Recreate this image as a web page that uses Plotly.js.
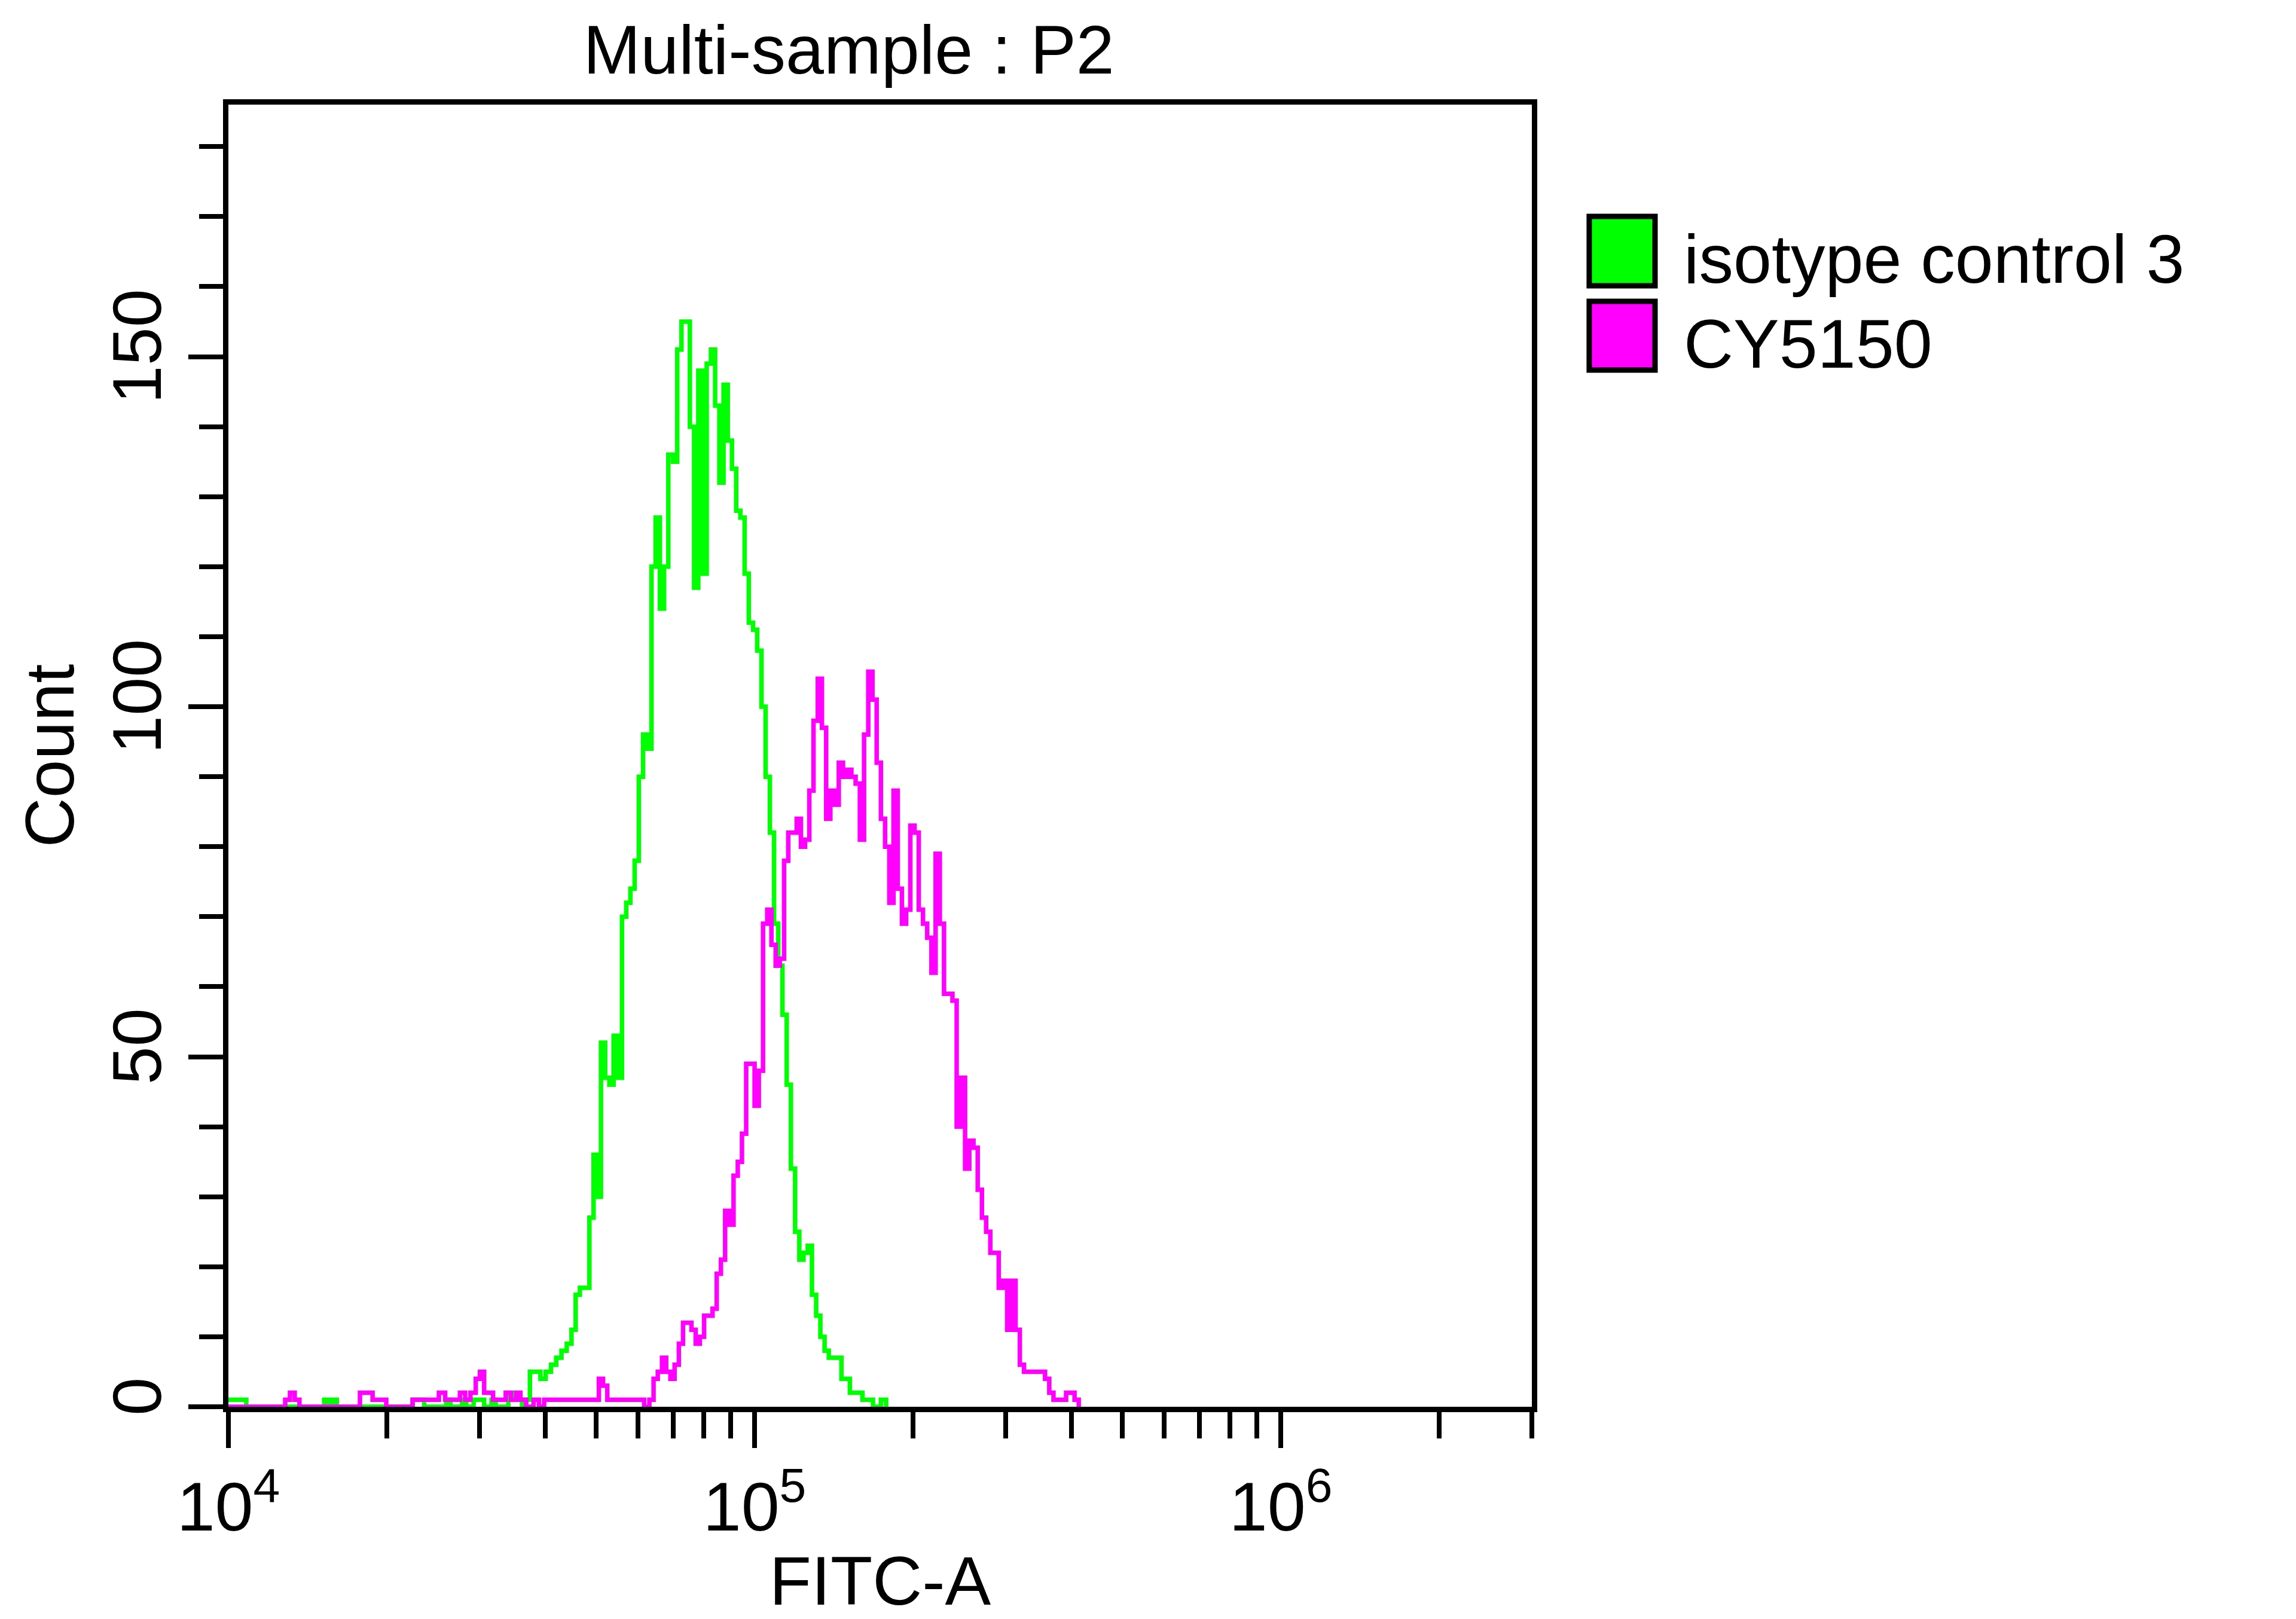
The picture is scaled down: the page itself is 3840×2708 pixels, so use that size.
<!DOCTYPE html>
<html>
<head>
<meta charset="utf-8">
<script src="https://cdn.plot.ly/plotly-3.0.1.min.js"></script>
<style>
html,body{margin:0;padding:0;background:#ffffff;}
#chart{width:3840px;height:2708px;}
</style>
</head>
<body>
<div id="chart"></div>
<script>
// ---- data (x as log10 of FITC-A, y as Count) ----
const isoLog10 = [4.000,4.012,4.024,4.034,4.176,4.182,4.190,4.198,4.206,4.344,4.350,4.362,4.372,4.414,4.422,4.444,4.452,4.466,4.476,4.486,4.500,4.508,4.532,4.542,4.550,4.558,4.565,
  4.573,4.583,4.593,4.603,4.613,4.623,4.633,4.643,4.652,4.660,4.668,4.677,4.686,4.694,4.700,
  4.708,4.716,4.724,4.732,4.740,4.748,4.756,4.764,4.772,4.780,4.788,4.796,4.804,4.812,4.820,4.828,4.836,
  4.845,4.853,4.861,4.869,4.877,4.885,4.893,4.901,4.909,4.917,4.925,4.933,4.941,4.949,4.957,4.965,4.973,4.981,4.989,4.997,
  5.005,5.013,5.021,5.029,5.037,5.045,5.053,5.061,5.069,5.077,5.085,5.093,5.101,5.109,5.117,5.125,5.133,5.141,5.149,5.157,5.165,5.173,5.181,5.189,5.197,
  5.205,5.215,5.225,5.240,5.250];
const isoCount = [1,1,1,0,0,1,0,1,0,0,1,1,0,1,0,1,0,1,1,0,1,0,2,1,1,0,1,
  5,5,4,5,6,7,8,9,11,16,17,17,27,36,30,
  52,47,46,53,47,70,72,74,78,90,96,94,120,127,114,120,136,
  135,151,155,155,140,117,148,119,149,151,143,132,146,138,134,128,127,119,112,111,
  108,100,90,82,69,63,56,46,34,25,21,22,23,16,13,10,8,7,7,7,4,4,2,2,2,
  1,1,0,1,0];

const cyLog10 = [4.000,4.100,4.108,4.117,4.126,4.135,4.244,4.250,4.262,4.274,4.290,4.300,4.350,4.390,4.400,4.412,4.432,4.440,4.450,4.460,4.470,4.478,4.486,4.494,4.503,4.515,4.527,4.537,4.547,4.555,4.566,4.580,4.590,4.600,4.690,4.704,4.712,4.720,4.790,
  4.800,4.808,4.816,4.824,4.832,4.840,4.848,4.856,4.864,4.872,4.880,4.888,4.896,4.904,4.912,4.920,4.928,4.936,4.944,4.952,4.960,4.968,4.976,4.984,4.992,
  5.000,5.008,5.016,5.024,5.032,5.040,5.048,5.056,5.064,5.072,5.080,5.088,5.096,5.104,5.112,5.120,5.128,5.136,5.144,5.152,5.160,5.168,5.176,5.184,5.192,
  5.200,5.208,5.216,5.224,5.232,5.240,5.248,5.256,5.264,5.272,5.280,5.288,5.296,5.304,5.312,5.320,5.328,5.336,5.344,5.352,5.360,5.368,5.376,5.384,5.392,
  5.400,5.408,5.416,5.424,5.432,5.440,5.448,5.456,5.464,5.472,5.480,5.488,5.496,5.504,5.512,5.520,5.528,5.536,5.544,5.552,5.560,5.568,5.576,5.584,5.592,
  5.600,5.608,5.616];
const cyCount = [0,0,1,2,1,0,0,2,2,1,1,0,1,1,2,1,1,2,1,2,4,5,2,2,1,1,2,1,2,1,0,1,0,1,1,4,3,1,0,
  1,4,5,7,5,4,6,9,12,12,11,9,10,13,13,14,19,21,28,26,33,35,39,49,49,
  43,48,69,71,66,63,64,78,82,82,84,80,81,88,98,104,97,84,88,86,92,90,91,90,89,
  81,96,105,101,92,84,80,72,88,74,69,71,83,82,71,69,67,62,79,69,59,59,58,40,47,
  34,38,37,31,27,25,22,22,17,18,11,18,11,6,5,5,5,5,5,4,2,1,1,1,2,
  2,1,0];

const seriesNames = ['isotype control 3', 'CY5150'];
const seriesColors = ['#00ff00', '#ff00ff'];

const xMajorTicks = [1e4, 1e5, 1e6];
const xMajorLabels = ['10<sup>4</sup>', '10<sup>5</sup>', '10<sup>6</sup>'];
const xMinorTicks = [2e4,3e4,4e4,5e4,6e4,7e4,8e4,9e4,2e5,3e5,4e5,5e5,6e5,7e5,8e5,9e5,2e6,3e6];
const yMajorTicks = [0, 50, 100, 150];
const yMajorLabels = ['0', '50', '100', '150'];

const chartTitle = 'Multi-sample : P2';
const xTitle = 'FITC-A';
const yTitle = 'Count';

// ---- build figure ----
const FONT = 'Liberation Sans, Arial, Helvetica, sans-serif';
const toFitc = arr => arr.map(v => Math.pow(10, v));

const traces = [
  {x: toFitc(isoLog10), y: isoCount, name: seriesNames[0], type: 'scatter', mode: 'lines',
   line: {color: seriesColors[0], width: 7.5, shape: 'hv'}},
  {x: toFitc(cyLog10), y: cyCount, name: seriesNames[1], type: 'scatter', mode: 'lines',
   line: {color: seriesColors[1], width: 7.5, shape: 'hv'}}
];

// manual legend (large square swatches like the reference)
const swatchX0 = 1.044, swatchX1 = 1.0945;
const rows = [{y0: 0.8609, y1: 0.9141, ty: 0.8815}, {y0: 0.7961, y1: 0.8489, ty: 0.8163}];
const shapes = rows.map((r, i) => ({
  type: 'rect', xref: 'paper', yref: 'paper', x0: swatchX0, x1: swatchX1, y0: r.y0, y1: r.y1,
  fillcolor: seriesColors[i], line: {color: '#000000', width: 9}
}));
const annotations = rows.map((r, i) => ({
  xref: 'paper', yref: 'paper', x: 1.1156, y: r.ty, xanchor: 'left', yanchor: 'middle',
  text: seriesNames[i], showarrow: false, font: {family: FONT, size: 115, color: '#000000'}
}));

const layout = {
  width: 3840, height: 2708,
  paper_bgcolor: '#ffffff', plot_bgcolor: '#ffffff',
  margin: {l: 382, r: 1278, t: 175, b: 355, pad: 0},
  showlegend: false,
  font: {family: FONT, size: 115, color: '#000000'},
  title: {text: chartTitle, font: {family: FONT, size: 115, color: '#000000'},
          xref: 'paper', x: 0.476, xanchor: 'center', yref: 'container', y: 0.9546, yanchor: 'bottom'},
  xaxis: {
    type: 'log', range: [4, Math.log10(3e6)],
    tickmode: 'array', tickvals: xMajorTicks, ticktext: xMajorLabels,
    ticks: 'outside', ticklen: 60, tickwidth: 8, tickcolor: '#000000',
    showline: true, linewidth: 9, linecolor: '#000000', mirror: true,
    showgrid: false, zeroline: false,
    tickfont: {family: FONT, size: 115, color: '#000000'},
    minor: {tickmode: 'array', tickvals: xMinorTicks, ticks: 'outside', ticklen: 44, tickwidth: 8, tickcolor: '#000000', showgrid: false},
    title: {text: xTitle, font: {family: FONT, size: 115, color: '#000000'}, standoff: 20}
  },
  yaxis: {
    range: [0, 186],
    tickmode: 'array', tickvals: yMajorTicks, ticktext: yMajorLabels, tickangle: -90,
    ticks: 'outside', ticklen: 58, tickwidth: 8, tickcolor: '#000000',
    showline: true, linewidth: 9, linecolor: '#000000', mirror: true,
    showgrid: false, zeroline: false,
    tickfont: {family: FONT, size: 115, color: '#000000'},
    minor: {tick0: 0, dtick: 10, ticks: 'outside', ticklen: 40, tickwidth: 8, tickcolor: '#000000', showgrid: false},
    title: {text: yTitle, font: {family: FONT, size: 115, color: '#000000'}, standoff: 6}
  },
  shapes: shapes,
  annotations: annotations
};

Plotly.newPlot('chart', traces, layout, {staticPlot: true, displayModeBar: false});
</script>
</body>
</html>
